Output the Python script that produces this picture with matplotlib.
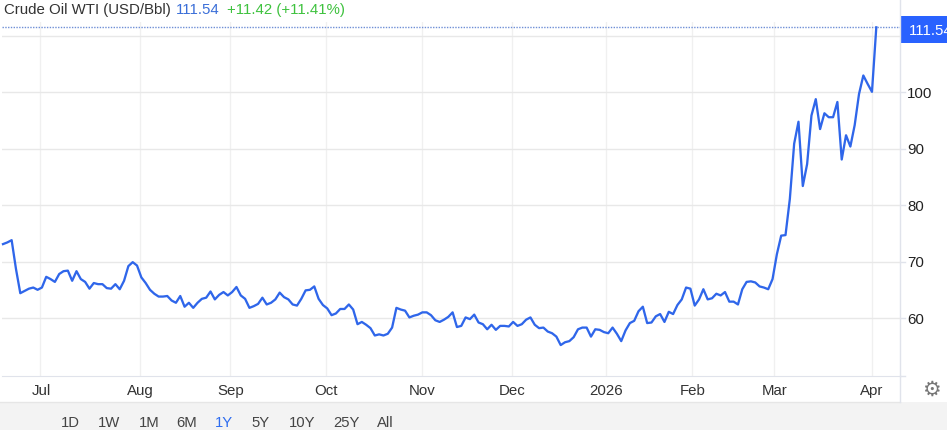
import matplotlib
matplotlib.use("Agg")
import matplotlib.pyplot as plt
from matplotlib.patches import Rectangle

plt.rcParams['font.family'] = ['Liberation Sans', 'DejaVu Sans']

prices = [
    73.1,73.4,73.8,68.7,64.4,64.8,65.2,65.4,65.0,65.4,67.3,66.9,66.4,67.8,68.3,68.4,66.6,68.3,66.9,66.4,
    65.2,66.2,66.0,66.0,65.3,65.2,66.0,65.1,66.6,69.2,69.9,69.3,67.2,66.2,65.0,64.3,63.8,63.8,63.9,63.1,
    62.7,63.9,62.0,62.7,61.8,62.7,63.4,63.6,64.7,63.3,64.1,64.6,64.0,64.6,65.5,64.0,63.4,61.8,62.1,62.5,
    63.6,62.4,62.7,63.3,64.5,63.7,63.3,62.4,62.2,63.4,64.9,65.0,65.6,63.4,62.3,61.7,60.5,60.8,61.6,61.6,
    62.4,61.5,58.9,59.3,
    58.8,58.2,56.9,57.1,56.9,57.2,58.3,61.8,61.5,61.3,60.1,60.4,60.6,61.0,61.0,60.5,59.6,59.3,59.7,60.2,
    61.0,58.4,58.6,60.1,59.8,60.6,59.2,58.9,58.0,58.8,57.9,58.6,58.6,58.5,59.3,58.6,58.9,59.7,60.1,58.8,
    58.2,58.3,57.6,57.3,56.7,55.2,55.7,55.9,56.6,58.0,58.3,58.3,56.7,58.0,57.9,57.5,57.3,58.3,57.2,55.9,
    57.8,59.1,59.5,61.2,62.0,59.1,59.2,60.3,60.7,59.3,61.1,60.7,62.3,63.3,65.4,65.2,62.2,63.3,65.1,63.3,
    63.5,64.3,64.0,64.6,62.9,62.9,62.4,65.1,66.4,66.5,66.3,65.6,65.4,65.1,66.9,71.3,74.6,74.7,81.1,90.9,
    94.8,83.4,87.3,95.9,98.8,93.5,96.3,95.6,95.6,98.3,88.1,92.4,90.4,94.2,99.7,103.0,101.5,100.1,111.54,
]
month_labels = ['Jul','Aug','Sep','Oct','Nov','Dec','2026','Feb','Mar','Apr']
month_pos = [8.67,31.7,52.5,74.7,96.9,117.7,139.4,159.4,178.4,200.9]
y_ticks = [60,70,80,90,100,110]
y_labels = ['60','70','80','90','100']
range_labels = ['1D','1W','1M','6M','1Y','5Y','10Y','25Y','All']
range_x = [70,109,149,187,224,261,302,346,385]
last_price = 111.54
title_name = 'Crude Oil WTI (USD/Bbl)'
title_price = '111.54'
title_change = '+11.42 (+11.41%)'

W, H = 947, 431
fig = plt.figure(figsize=(W/100, H/100), dpi=100, facecolor='white')

bg = fig.add_axes([0,0,1,1], zorder=0)
bg.set_xlim(0,W); bg.set_ylim(H,0); bg.axis('off')
bg.add_patch(Rectangle((0,403),W,28,color='#f3f3f3',lw=0))
bg.plot([0,899.5],[403,403],color='#e6e6e6',lw=1)
bg.plot([899.5,899.5],[0,403],color='#e0e3eb',lw=1)

n = len(prices)
x0 = 3.0
step = (876.3-x0)/(n-1)
left, right, top, bottom = 2, 899.5, 23, 376.5
ax = fig.add_axes([left/W, 1-bottom/H, (right-left)/W, (bottom-top)/H], zorder=1)
ax.patch.set_alpha(0)
ax.set_xlim((left-x0)/step, (right-x0)/step)
y_per = 5.64
ax.set_ylim(60-(bottom-319)/y_per, 60+(319-top)/y_per)
for s in ax.spines.values():
    s.set_visible(False)
ax.spines['bottom'].set_visible(True)
ax.spines['bottom'].set_color('#e0e3eb')
ax.set_xticks(month_pos); ax.set_xticklabels([])
ax.set_yticks(y_ticks); ax.set_yticklabels([])
ax.tick_params(length=0)
ax.grid(True, axis='x', color='#f0f0f0', lw=1)
ax.grid(True, axis='y', color='#e8e8e8', lw=1)
ax.set_axisbelow(True)
ax.axhline(last_price, color='#6f8fd6', lw=1, ls=(0,(1,1)))
ax.plot(range(n), prices, color='#2f66ea', lw=1.65, solid_joinstyle='round', clip_on=False)

for v, lab in zip(y_ticks, y_labels):
    py = 319-(v-60)*y_per
    bg.plot([899.5,904.5],[py,py],color='#e0e3eb',lw=1)
    bg.text(907,py+0.7,lab,ha='left',va='center',fontsize=10.8,color='#222222')
bg.plot([899.5,904.5],[bottom,bottom],color='#e0e3eb',lw=1)
for m, lab in zip(month_pos, month_labels):
    px = x0+m*step
    bg.text(px+0.5,391.5,lab,ha='center',va='center',fontsize=10.8,color='#333333')

bg.add_patch(Rectangle((900,17),47,27,color='#2962ff',lw=0))
bg.text(908.5,31,title_price,ha='left',va='center',fontsize=10.8,color='white',clip_on=True)

f = 10.8
bg.text(4,10,title_name,ha='left',va='center',fontsize=f,color='#333333')
bg.text(176,10,title_price,ha='left',va='center',fontsize=f,color='#3b6fd8')
bg.text(227,10,title_change,ha='left',va='center',fontsize=f,color='#3fc23f')

for px, lab in zip(range_x, range_labels):
    bg.text(px,423.5,lab,ha='center',va='center',fontsize=10.7,color='#2f6df0' if lab=='1Y' else '#444444')

bg.text(931,390,'\u2699',ha='center',va='center',fontsize=15,color='#777777',family='DejaVu Sans')

fig.savefig('out.png', dpi=100, facecolor='white')
